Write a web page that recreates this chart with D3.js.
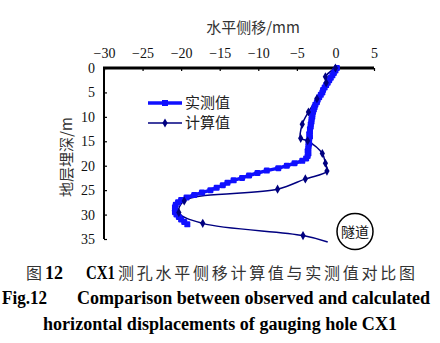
<!DOCTYPE html>
<html>
<head>
<meta charset="utf-8">
<script src="https://cdn.jsdelivr.net/npm/d3@7"></script>
<style>
  html, body { margin: 0; padding: 0; background: #fff; }
  svg { display: block; }
  .serif { font-family: "Liberation Serif", "DejaVu Serif", serif; }
  .cjk { font-family: "Noto Sans CJK SC", sans-serif; }
</style>
</head>
<body>
<svg id="chart" width="440" height="343"></svg>
<script>
// Measured horizontal displacement (mm) vs. depth (m), inclinometer CX1
const observedDepth = [
  0, 0.5, 1, 1.5, 2, 2.5, 3, 3.5, 4, 4.5, 5, 5.5, 6, 6.5, 7, 7.5, 8, 8.5, 9, 9.5,
  10, 10.5, 11, 11.5, 12, 12.5, 13, 13.5, 14, 14.5, 15, 15.5, 16, 16.5, 17, 17.5,
  18, 18.5, 19, 19.5, 20, 20.5, 21, 21.5, 22, 22.5, 23, 23.5, 24, 24.5, 25, 25.5,
  26, 26.5, 27, 27.5, 28, 28.5, 29, 29.5, 30, 30.5, 31, 31.5, 32
];
const observedDisp = [
  0.2, 0.0, -0.2, -0.4, -0.6, -0.8, -1.0, -1.2, -1.4, -1.6, -1.7, -1.9, -2.1, -2.3, -2.4, -2.6, -2.7, -2.8, -2.9, -3.0,
  -3.0, -3.1, -3.1, -3.2, -3.2, -3.3, -3.3, -3.4, -3.3, -3.4, -3.5, -3.4, -3.5, -3.5, -3.6, -3.5,
  -3.6, -3.8, -4.3, -5.3, -6.3, -7.4, -8.9, -10.1, -11.2, -12.1, -13.2, -14.0, -14.6, -15.4, -16.2, -17.3,
  -18.3, -19.3, -20.0, -20.4, -20.7, -20.8, -20.8, -20.8, -20.6, -20.3, -20.0, -19.6, -19.2
];

// Calculated horizontal displacement (mm) vs. depth (m)
const calcDepth = [0, 1.8, 3.0, 6.3, 9.0, 11.5, 14.4, 14.9, 17.5, 19.5, 21.1, 22.7, 24.8, 27.2, 29.6, 31.8, 34.3, 35.6];
const calcDisp  = [0.0, -1.3, -1.2, -2.4, -3.5, -4.3, -4.5, -3.6, -1.7, -1.3, -1.1, -3.9, -7.5, -19.6, -20.3, -17.2, -4.2, -1.0];

const xTicks = [-30, -25, -20, -15, -10, -5, 0, 5];
const yTicks = [0, 5, 10, 15, 20, 25, 30, 35];

const seriesNames = ["实测值", "计算值"];
const xTitle = "水平侧移/mm";
const yTitle = "地层埋深/m";
const tunnelLabel = "隧道";

const observed = observedDepth.map((d, i) => ({ depth: d, disp: observedDisp[i] }));
const calculated = calcDepth.map((d, i) => ({ depth: d, disp: calcDisp[i] }));

const blue = "#1010ff";
const navy = "#000080";

const svg = d3.select("#chart");

const x = d3.scaleLinear().domain([-30, 5]).range([104, 374]);
const y = d3.scaleLinear().domain([0, 35]).range([68, 239]);

// Top axis (displacement)
const xAxis = svg.append("g")
  .attr("transform", `translate(0,${y(0)})`)
  .call(d3.axisTop(x).tickValues(xTicks).tickSizeInner(-3).tickSizeOuter(0).tickPadding(10));
xAxis.select(".domain").remove();
xAxis.selectAll(".tick line").attr("stroke", "#000").attr("stroke-width", 1.2);
xAxis.selectAll(".tick text").attr("class", "serif").attr("font-size", 14).attr("fill", "#111");

// Left axis (depth)
const yAxis = svg.append("g")
  .attr("transform", `translate(${x(-30)},0)`)
  .call(d3.axisLeft(y).tickValues(yTicks).tickSizeInner(-3).tickSizeOuter(0).tickPadding(9));
yAxis.select(".domain").remove();
yAxis.selectAll(".tick line").attr("stroke", "#000").attr("stroke-width", 1.2);
yAxis.selectAll(".tick text").attr("class", "serif").attr("font-size", 14).attr("fill", "#111");

svg.append("line")
  .attr("x1", x(-30)).attr("x2", x(-30))
  .attr("y1", y(0)).attr("y2", y(35))
  .attr("stroke", "#000").attr("stroke-width", 2);
svg.append("line")
  .attr("x1", x(-30) - 1).attr("x2", x(5))
  .attr("y1", y(0)).attr("y2", y(0))
  .attr("stroke", "#000").attr("stroke-width", 3);

// Axis titles
svg.append("text")
  .attr("class", "cjk")
  .attr("x", 253).attr("y", 33)
  .attr("text-anchor", "middle")
  .attr("font-size", 15).attr("fill", "#333")
  .text(xTitle);

svg.append("text")
  .attr("class", "cjk")
  .attr("transform", "translate(72,157) rotate(-90)")
  .attr("text-anchor", "middle")
  .attr("font-size", 15).attr("fill", "#333")
  .text(yTitle);

// Calculated series
const calcLine = d3.line()
  .x(d => x(d.disp)).y(d => y(d.depth))
  .curve(d3.curveCatmullRom.alpha(0.5));

svg.append("path")
  .datum(calculated)
  .attr("d", calcLine)
  .attr("fill", "none")
  .attr("stroke", navy)
  .attr("stroke-width", 1.5);

// Observed series
const obsLine = d3.line()
  .x(d => x(d.disp)).y(d => y(d.depth));

svg.append("path")
  .datum(observed)
  .attr("d", obsLine)
  .attr("fill", "none")
  .attr("stroke", blue)
  .attr("stroke-width", 3.5);

svg.append("g").selectAll("rect")
  .data(observed)
  .join("rect")
  .attr("x", d => x(d.disp) - 3)
  .attr("y", d => y(d.depth) - 3)
  .attr("width", 6).attr("height", 6)
  .attr("rx", 1.2)
  .attr("fill", blue);

// Calculated markers (the last point at the tunnel crown carries no marker)
const diamond = d3.symbol().type(d3.symbolDiamond).size(24);
svg.append("g").selectAll("path")
  .data(calculated.slice(0, -1))
  .join("path")
  .attr("d", diamond)
  .attr("transform", d => `translate(${x(d.disp)},${y(d.depth)})`)
  .attr("fill", navy);

// Legend
const legend = svg.append("g");
[
  { name: seriesNames[0], yPos: 103, color: blue, width: 3.5, mark: "square" },
  { name: seriesNames[1], yPos: 123, color: navy, width: 1.5, mark: "diamond" }
].forEach(item => {
  legend.append("line")
    .attr("x1", 148).attr("x2", 182)
    .attr("y1", item.yPos).attr("y2", item.yPos)
    .attr("stroke", item.color).attr("stroke-width", item.width);
  if (item.mark === "square") {
    legend.append("rect")
      .attr("x", 162).attr("y", item.yPos - 3)
      .attr("width", 6).attr("height", 6)
      .attr("fill", item.color);
  } else {
    legend.append("path")
      .attr("d", diamond)
      .attr("transform", `translate(165,${item.yPos})`)
      .attr("fill", item.color);
  }
  legend.append("text")
    .attr("class", "cjk")
    .attr("x", 185).attr("y", item.yPos + 5)
    .attr("font-size", 15).attr("fill", "#222")
    .text(item.name);
});

// Tunnel symbol
svg.append("circle")
  .attr("cx", 355).attr("cy", 231.5).attr("r", 18)
  .attr("fill", "#fff").attr("stroke", "#000").attr("stroke-width", 1.5);
svg.append("text")
  .attr("class", "cjk")
  .attr("x", 355).attr("y", 236.5)
  .attr("text-anchor", "middle")
  .attr("font-size", 14).attr("fill", "#111")
  .text(tunnelLabel);

// Caption
const cap = svg.append("g");
cap.append("text").attr("class", "cjk").attr("x", 26).attr("y", 279)
  .attr("font-size", 16).attr("fill", "#333").text("图");
cap.append("text").attr("class", "serif").attr("x", 45).attr("y", 279)
  .attr("font-size", 18).attr("font-weight", "bold").attr("fill", "#000").text("12");
cap.append("text").attr("class", "serif").attr("x", 86).attr("y", 279)
  .attr("font-size", 18).attr("font-weight", "bold").attr("fill", "#000")
  .attr("textLength", 29).attr("lengthAdjust", "spacingAndGlyphs").text("CX1");
cap.append("text").attr("class", "cjk").attr("x", 118).attr("y", 279)
  .attr("font-size", 16).attr("fill", "#333")
  .attr("textLength", 297).attr("lengthAdjust", "spacing")
  .text("测孔水平侧移计算值与实测值对比图");

cap.append("text").attr("class", "serif").attr("x", 2).attr("y", 304)
  .attr("font-size", 18).attr("font-weight", "bold").attr("fill", "#000")
  .attr("textLength", 45).attr("lengthAdjust", "spacingAndGlyphs").text("Fig.12");
cap.append("text").attr("class", "serif").attr("x", 77).attr("y", 304)
  .attr("font-size", 18).attr("font-weight", "bold").attr("fill", "#000")
  .attr("textLength", 353).attr("lengthAdjust", "spacingAndGlyphs")
  .text("Comparison between observed and calculated");
cap.append("text").attr("class", "serif").attr("x", 43).attr("y", 330)
  .attr("font-size", 18).attr("font-weight", "bold").attr("fill", "#000")
  .attr("textLength", 354).attr("lengthAdjust", "spacingAndGlyphs")
  .text("horizontal displacements of gauging hole CX1");
</script>
</body>
</html>
